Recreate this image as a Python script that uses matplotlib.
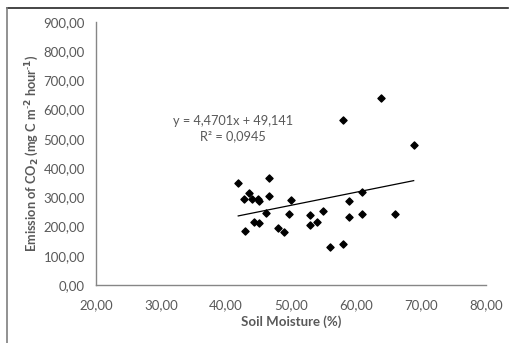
import matplotlib.pyplot as plt
from matplotlib.lines import Line2D
from matplotlib.ticker import FuncFormatter

# 土壤含水量 (%) 与 CO2 排放
soil_moisture = [41.9, 46.7, 43.6, 42.8, 44.0, 45.0, 45.1, 46.7, 50.0, 46.2,
                 49.7, 44.4, 45.1, 43.0, 48.0, 48.9, 53.0, 53.0, 54.0, 54.9,
                 56.0, 58.0, 58.9, 58.9, 63.9, 58.0, 68.9, 61.0, 61.0, 66.0]
co2_emission = [348, 365, 316, 295, 295, 295, 286, 305, 292, 247,
                244, 217, 212, 185, 196, 180, 241, 204, 216, 252,
                131, 139, 287, 232, 641, 565, 480, 319, 244, 244]

slope = 4.4701
intercept = 49.141
r2_text = "0,0945"
trend_x = [min(soil_moisture), max(soil_moisture)]
trend_y = [slope * x + intercept for x in trend_x]

plt.rcParams['font.family'] = ['Lato', 'DejaVu Sans']
grey = '#595959'

fig = plt.figure(figsize=(5.13, 3.43), dpi=100)
ax = fig.add_axes([0.187, 0.169, 0.760, 0.767])

ax.scatter(soil_moisture, co2_emission, marker='D', s=13, color='black', zorder=3)
ax.plot(trend_x, trend_y, color='black', linewidth=0.9)

ax.set_xlim(20, 80)
ax.set_ylim(0, 900)
ax.set_xticks(range(20, 81, 10))
ax.set_yticks(range(0, 901, 100))
comma = FuncFormatter(lambda v, p: ('%.2f' % v).replace('.', ','))
ax.xaxis.set_major_formatter(comma)
ax.yaxis.set_major_formatter(comma)
ax.tick_params(length=0, labelsize=9.5, labelcolor=grey, pad=8)
ax.tick_params(axis='x', pad=10)

for s in ['top', 'right']:
    ax.spines[s].set_visible(False)
for s in ['left', 'bottom']:
    ax.spines[s].set_color('#868686')
    ax.spines[s].set_linewidth(1.0)

ax.set_xlabel('Soil Moisture (%)', fontsize=9.5, fontweight='bold', color=grey, labelpad=3)
ax.set_ylabel(r'Emission of CO$_\mathbf{2}$ (mg C m$^{\text{-}\mathbf{2}}$ hour$^{\text{-}\mathbf{1}}$)',
              fontsize=9.2, fontweight='bold', color=grey, labelpad=2)

ax.text(41.1, 535, 'y = 4,4701x + 49,141\nR² = ' + r2_text, ha='center', va='center',
        fontsize=9.2, color=grey, linespacing=1.3)

# 外框
fig.add_artist(Line2D([0.013, 0.99], [0.977, 0.977], color='#262626', linewidth=1.2))
fig.add_artist(Line2D([0.013, 0.013], [0.0, 0.977], color='#7f7f7f', linewidth=1.2))

fig.savefig('out.png', dpi=100)
